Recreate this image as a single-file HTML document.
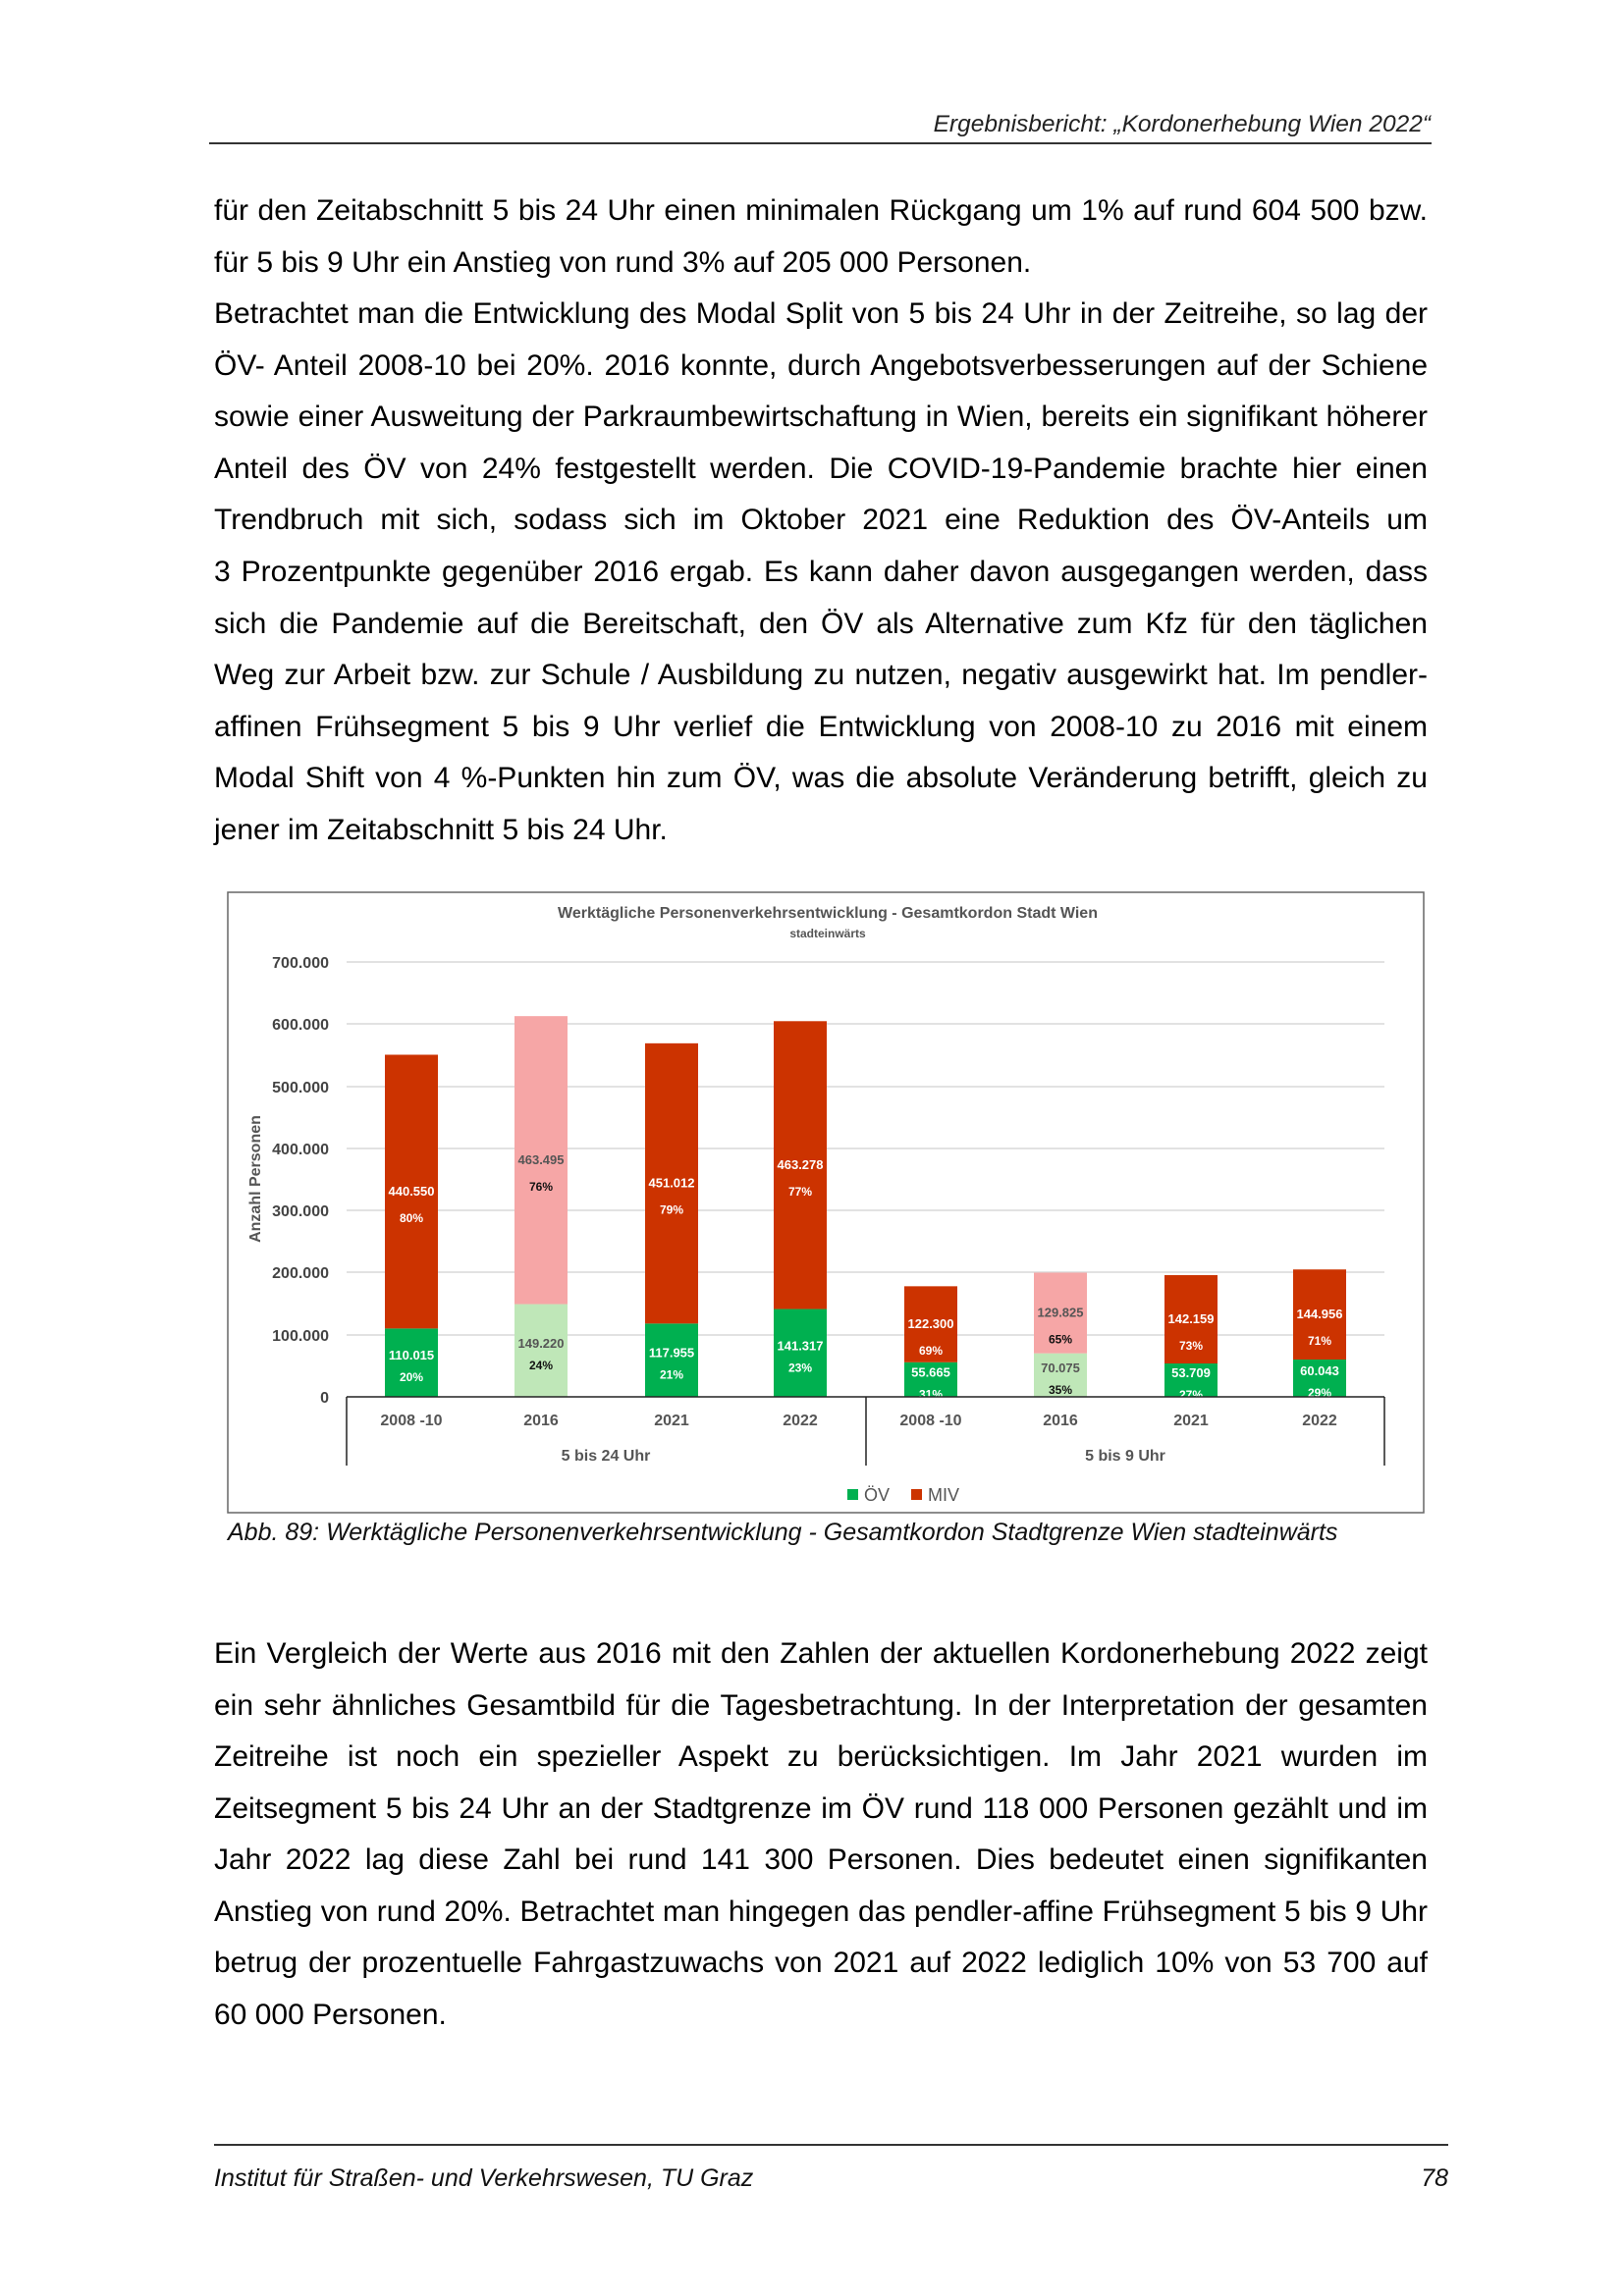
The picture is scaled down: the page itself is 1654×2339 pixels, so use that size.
<!DOCTYPE html>
<html><head><meta charset="utf-8"><style>
body{margin:0;background:#fff}
#p{position:relative;width:1654px;height:2339px;overflow:hidden;font-family:"Liberation Sans",Arial,sans-serif;color:#000}
.l{position:absolute;left:218px;width:1236px;font-size:30px;line-height:34px;white-space:nowrap}
.j{text-align:justify;text-align-last:justify;white-space:normal}
.it{font-style:italic}
</style></head><body><div id="p">
<div class="it" style="position:absolute;right:197px;top:113px;font-size:24.5px;color:#222">Ergebnisbericht: „Kordonerhebung Wien 2022“</div>
<div style="position:absolute;left:213px;top:145px;width:1245px;height:2px;background:#333"></div>

<div class="l j" style="top:198px">für den Zeitabschnitt 5 bis 24 Uhr einen minimalen Rückgang um 1% auf rund 604 500 bzw.</div>
<div class="l" style="top:251px">für 5 bis 9 Uhr ein Anstieg von rund 3% auf 205 000 Personen.</div>
<div class="l j" style="top:303px">Betrachtet man die Entwicklung des Modal Split von 5 bis 24 Uhr in der Zeitreihe, so lag der</div>
<div class="l j" style="top:356px">ÖV- Anteil 2008-10 bei 20%. 2016 konnte, durch Angebotsverbesserungen auf der Schiene</div>
<div class="l j" style="top:408px">sowie einer Ausweitung der Parkraumbewirtschaftung in Wien, bereits ein signifikant höherer</div>
<div class="l j" style="top:461px">Anteil des ÖV von 24% festgestellt werden. Die COVID-19-Pandemie brachte hier einen</div>
<div class="l j" style="top:513px">Trendbruch mit sich, sodass sich im Oktober 2021 eine Reduktion des ÖV-Anteils um</div>
<div class="l j" style="top:566px">3 Prozentpunkte gegenüber 2016 ergab. Es kann daher davon ausgegangen werden, dass</div>
<div class="l j" style="top:619px">sich die Pandemie auf die Bereitschaft, den ÖV als Alternative zum Kfz für den täglichen</div>
<div class="l j" style="top:671px">Weg zur Arbeit bzw. zur Schule / Ausbildung zu nutzen, negativ ausgewirkt hat. Im pendler-</div>
<div class="l j" style="top:724px">affinen Frühsegment 5 bis 9 Uhr verlief die Entwicklung von 2008-10 zu 2016 mit einem</div>
<div class="l j" style="top:776px">Modal Shift von 4 %-Punkten hin zum ÖV, was die absolute Veränderung betrifft, gleich zu</div>
<div class="l" style="top:829px">jener im Zeitabschnitt 5 bis 24 Uhr.</div>

<svg style="position:absolute;left:0;top:0" width="1654" height="1600" font-family="Liberation Sans, Arial, sans-serif">
<rect x="232" y="909" width="1218" height="632" fill="#fff" stroke="#666" stroke-width="1.5"/>
<text x="843" y="935" text-anchor="middle" font-size="16" font-weight="bold" fill="#555">Werktägliche Personenverkehrsentwicklung - Gesamtkordon Stadt Wien</text>
<text x="843" y="955" text-anchor="middle" font-size="12" font-weight="bold" fill="#555">stadteinwärts</text>
<g stroke="#d9d9d9" stroke-width="1.5">
<line x1="353" x2="1410" y1="980" y2="980"/><line x1="353" x2="1410" y1="1043" y2="1043"/>
<line x1="353" x2="1410" y1="1107" y2="1107"/><line x1="353" x2="1410" y1="1170" y2="1170"/>
<line x1="353" x2="1410" y1="1233" y2="1233"/><line x1="353" x2="1410" y1="1296" y2="1296"/>
<line x1="353" x2="1410" y1="1360" y2="1360"/></g>
<g font-size="16" font-weight="bold" fill="#444" text-anchor="end">
<text x="335" y="986">700.000</text><text x="335" y="1049">600.000</text><text x="335" y="1113">500.000</text>
<text x="335" y="1176">400.000</text><text x="335" y="1239">300.000</text><text x="335" y="1302">200.000</text>
<text x="335" y="1366">100.000</text><text x="335" y="1429">0</text></g>
<text transform="translate(265,1201) rotate(-90)" text-anchor="middle" font-size="16" font-weight="bold" fill="#555">Anzahl Personen</text>
<g id="bars" font-size="13" font-weight="bold" text-anchor="middle"></g>
<g stroke="#222" stroke-width="1.5">
<line x1="353" x2="1410" y1="1423" y2="1423"/>
<line x1="353" x2="353" y1="1423" y2="1493"/><line x1="882" x2="882" y1="1423" y2="1493"/><line x1="1410" x2="1410" y1="1423" y2="1493"/></g>
<g font-size="16" font-weight="bold" fill="#555" text-anchor="middle">
<text x="419" y="1452">2008 -10</text><text x="551" y="1452">2016</text><text x="684" y="1452">2021</text><text x="815" y="1452">2022</text>
<text x="948" y="1452">2008 -10</text><text x="1080" y="1452">2016</text><text x="1213" y="1452">2021</text><text x="1344" y="1452">2022</text>
<text x="617" y="1488">5 bis 24 Uhr</text><text x="1146" y="1488">5 bis 9 Uhr</text></g>
<rect x="863" y="1517" width="11" height="11" fill="#00b050"/>
<text x="880" y="1529" font-size="18" fill="#555">ÖV</text>
<rect x="928" y="1517" width="11" height="11" fill="#cc3300"/>
<text x="945" y="1529" font-size="18" fill="#555">MIV</text>
</svg>
<script>
(function(){
var xs=[419,551,684,815,948,1080,1213,1344];
var tot=[550565,612715,568967,604595,177965,199900,195868,204999];
var ov=[110015,149220,117955,141317,55665,70075,53709,60043];
var miv=[440550,463495,451012,463278,122300,129825,142159,144956];
var po=['20%','24%','21%','23%','31%','35%','27%','29%'];
var pm=['80%','76%','79%','77%','69%','65%','73%','71%'];
function f(n){return String(n).replace(/(\d)(?=(\d{3})+$)/,'$1.');}
var k=63.3/100000,b=1423,s='';
for(var i=0;i<8;i++){
var pale=(i==1||i==5);
var yo=b-ov[i]*k, yt=b-tot[i]*k;
s+='<rect x="'+(xs[i]-27)+'" y="'+yo+'" width="54" height="'+(b-yo)+'" fill="'+(pale?'#bfe7b8':'#00b050')+'"/>';
s+='<rect x="'+(xs[i]-27)+'" y="'+yt+'" width="54" height="'+(yo-yt)+'" fill="'+(pale?'#f6a6a6':'#cc3300')+'"/>';
var c1=pale?'#555':'#fff',c2=pale?'#111':'#fff';
var mo=(yo+b)/2, mm=(yt+yo)/2;
s+='<text x="'+xs[i]+'" y="'+(mo-3)+'" fill="'+c1+'">'+f(ov[i])+'</text>';
s+='<text x="'+xs[i]+'" y="'+(mo+19)+'" fill="'+c2+'" font-size="12">'+po[i]+'</text>';
s+='<text x="'+xs[i]+'" y="'+(mm+4)+'" fill="'+c1+'">'+f(miv[i])+'</text>';
s+='<text x="'+xs[i]+'" y="'+(mm+31)+'" fill="'+c2+'" font-size="12">'+pm[i]+'</text>';
}
document.getElementById('bars').innerHTML=s;
})();
</script>

<div class="it" style="position:absolute;left:232px;top:1547px;font-size:25px;color:#111">Abb. 89: Werktägliche Personenverkehrsentwicklung - Gesamtkordon Stadtgrenze Wien stadteinwärts</div>

<div class="l j" style="top:1668px">Ein Vergleich der Werte aus 2016 mit den Zahlen der aktuellen Kordonerhebung 2022 zeigt</div>
<div class="l j" style="top:1721px">ein sehr ähnliches Gesamtbild für die Tagesbetrachtung. In der Interpretation der gesamten</div>
<div class="l j" style="top:1773px">Zeitreihe ist noch ein spezieller Aspekt zu berücksichtigen. Im Jahr 2021 wurden im</div>
<div class="l j" style="top:1826px">Zeitsegment 5 bis 24 Uhr an der Stadtgrenze im ÖV rund 118 000 Personen gezählt und im</div>
<div class="l j" style="top:1878px">Jahr 2022 lag diese Zahl bei rund 141 300 Personen. Dies bedeutet einen signifikanten</div>
<div class="l j" style="top:1931px">Anstieg von rund 20%. Betrachtet man hingegen das pendler-affine Frühsegment 5 bis 9 Uhr</div>
<div class="l j" style="top:1983px">betrug der prozentuelle Fahrgastzuwachs von 2021 auf 2022 lediglich 10% von 53 700 auf</div>
<div class="l" style="top:2036px">60 000 Personen.</div>

<div style="position:absolute;left:218px;top:2184px;width:1257px;height:1.5px;background:#333"></div>
<div class="it" style="position:absolute;left:218px;top:2205px;font-size:25px;color:#111">Institut für Straßen- und Verkehrswesen, TU Graz</div>
<div class="it" style="position:absolute;right:179px;top:2205px;font-size:25px;color:#111">78</div>
</div></body></html>
